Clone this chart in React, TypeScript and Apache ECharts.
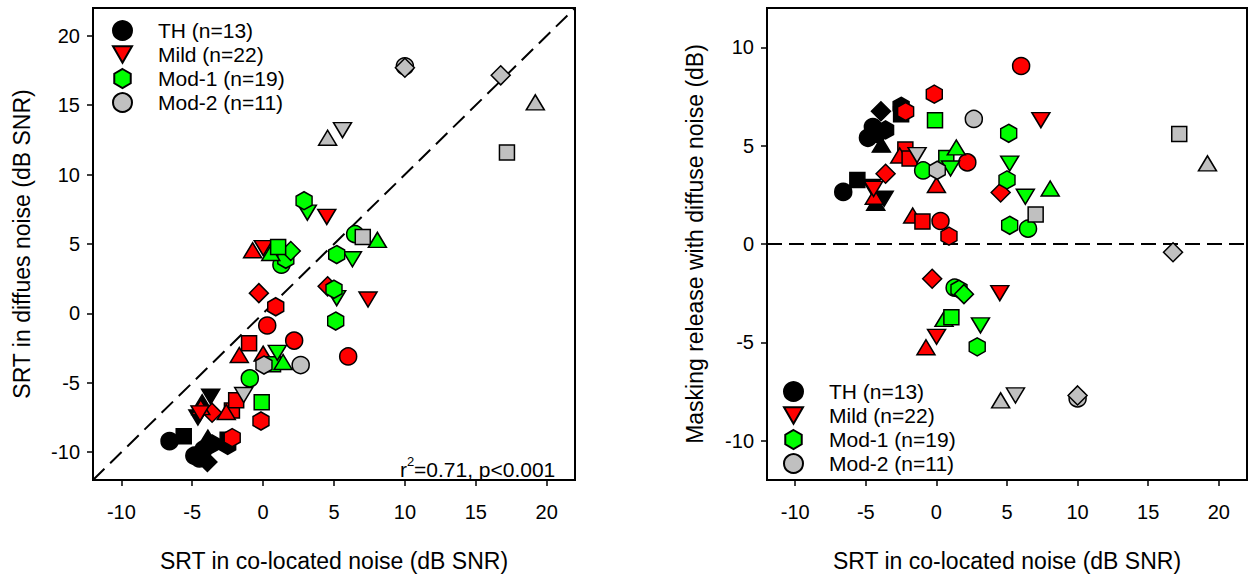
import React, { useEffect, useRef } from "react";
import * as echarts from "echarts";

const groupNames = ["TH (n=13)", "Mild (n=22)", "Mod-1 (n=19)", "Mod-2 (n=11)"];
const groupColors = ["#000000", "#ff0000", "#00ff00", "#c0c0c0"];
const legendShapes = ["c", "d", "h", "c"];

// shape codes: c circle, s square, u triangle up, d triangle down, m diamond, h hexagon
const thShape = ["c", "s", "u", "d", "m", "s", "h", "c", "h", "c", "u", "d", "c"];
const thColocated = [-6.6, -5.6, -4.3, -3.7, -3.93, -2.5, -2.5, -4.5, -3.6, -4.85, -3.9, -4.6, -4.2];
const thDiffuse = [-9.2, -8.85, -6.4, -6.0, -10.7, -9.1, -9.5, -10.45, -9.4, -10.25, -8.95, -7.5, -9.8];
const thRelease = [2.65, 3.25, 2.1, 2.3, 6.75, 6.6, 7.0, 5.95, 5.8, 5.4, 5.05, 2.9, 5.6];

const mildShape = ["c", "h", "h", "d", "m", "u", "d", "s", "u", "s", "c", "u", "m", "u", "s", "c", "h", "m", "d", "d", "u"];
const mildColocated = [6.0, -0.15, -2.18, 7.4, -3.6, -4.4, -4.45, -2.2, -2.6, -1.9, 2.19, 0.0, 4.55, -1.68, -0.99, 0.29, 0.89, -0.3, 4.49, 0.01, -0.74];
const mildDiffuse = [-3.1, -7.75, -8.95, 1.0, -7.15, -6.75, -7.2, -7.0, -7.1, -6.25, -1.96, -2.9, 1.95, -3.0, -2.15, -0.87, 0.48, 1.46, 6.95, 4.7, 4.55];
const mildRelease = [9.05, 7.62, 6.74, 6.3, 3.57, 2.4, 2.8, 4.8, 4.5, 4.35, 4.15, 3.0, 2.62, 1.45, 1.14, 1.17, 0.4, -1.77, -2.5, -4.72, -5.25];

const mod1Shape = ["h", "s", "d", "h", "u", "d", "h", "c", "c", "s", "u", "d", "c", "h", "m", "u", "s", "d", "h"];
const mod1Colocated = [5.12, -0.1, 5.19, 5.0, 8.06, 6.3, 5.19, 6.49, -0.94, 0.7, 1.41, 1.0, 1.29, 1.6, 1.95, 0.54, 1.06, 3.12, 2.89];
const mod1Diffuse = [-0.55, -6.4, 1.1, 1.74, 5.3, 3.9, 4.24, 5.71, -4.68, -3.67, -3.5, -2.84, 3.51, 3.9, 4.5, 4.35, 4.79, 7.26, 8.12];
const mod1Release = [5.63, 6.29, 4.09, 3.26, 2.82, 2.4, 0.95, 0.78, 3.74, 4.37, 4.91, 3.84, -2.22, -2.3, -2.55, -3.81, -3.73, -4.14, -5.23];

const mod2Shape = ["c", "d", "h", "s", "s", "u", "m", "u", "d", "c", "m"];
const mod2Colocated = [2.65, -1.37, 0.06, 7.03, 17.2, 19.2, 16.76, 4.55, 5.6, 10.0, 10.0];
const mod2Diffuse = [-3.72, -5.88, -3.72, 5.5, 11.6, 15.2, 17.15, 12.65, 13.2, 17.8, 17.7];
const mod2Release = [6.36, 4.52, 3.75, 1.5, 5.59, 4.1, -0.42, -7.95, -7.7, -7.85, -7.7];

const xTicks = [-10, -5, 0, 5, 10, 15, 20];
const yTicksLeft = [-10, -5, 0, 5, 10, 15, 20];
const yTicksRight = [-10, -5, 0, 5, 10];
const identityLine = [-12, 22];
const zeroLine = [-12, 22];

const HEX = "path://M0,-10 L8.66,-5 L8.66,5 L0,10 L-8.66,5 L-8.66,-5 Z";
const DOWN = "path://M-10,-8.66 L10,-8.66 L0,8.66 Z";
const FONT = "'Liberation Sans', Arial, Helvetica, sans-serif";

const symbolOf = (code: string) => {
  switch (code) {
    case "c": return { symbol: "circle", symbolSize: 17 };
    case "s": return { symbol: "rect", symbolSize: 15 };
    case "u": return { symbol: "triangle", symbolSize: [18, 15] };
    case "d": return { symbol: DOWN, symbolSize: [18, 15] };
    case "m": return { symbol: "diamond", symbolSize: [19, 19] };
    default: return { symbol: HEX, symbolSize: [16, 18] };
  }
};

const groups = [
  { shape: thShape, x: thColocated, diff: thDiffuse, rel: thRelease },
  { shape: mildShape, x: mildColocated, diff: mildDiffuse, rel: mildRelease },
  { shape: mod1Shape, x: mod1Colocated, diff: mod1Diffuse, rel: mod1Release },
  { shape: mod2Shape, x: mod2Colocated, diff: mod2Diffuse, rel: mod2Release },
];

const legendIcon = (code: string) => (code === "c" ? "circle" : code === "d" ? DOWN : HEX);

export default function App() {
  const ref = useRef<HTMLDivElement>(null);
  useEffect(() => {
    if (!ref.current) return;
    const chart = echarts.init(ref.current, null, { renderer: "svg" });

    const axisCommon = {
      axisLine: { show: true, onZero: false, lineStyle: { color: "#000", width: 2 } },
      axisTick: { show: true, inside: false, length: 6, lineStyle: { color: "#000", width: 1.5 } },
      splitLine: { show: false },
      nameLocation: "middle",
      nameTextStyle: { fontSize: 23, color: "#000", fontFamily: FONT },
    };
    const labelStyle = { fontSize: 20, color: "#000", fontFamily: FONT };

    const xAxis = [0, 1].map((g) => ({
      ...axisCommon,
      type: "value",
      gridIndex: g,
      min: -12,
      max: 22,
      name: "SRT in co-located noise (dB SNR)",
      nameGap: 69,
      axisTick: { ...axisCommon.axisTick, customValues: xTicks },
      axisLabel: { ...labelStyle, margin: 22, customValues: xTicks },
    }));

    const yAxis = [
      {
        ...axisCommon,
        type: "value",
        gridIndex: 0,
        min: -12,
        max: 22,
        name: "SRT in diffues noise (dB SNR)",
        nameGap: 60,
        axisTick: { ...axisCommon.axisTick, customValues: yTicksLeft },
        axisLabel: { ...labelStyle, margin: 13, customValues: yTicksLeft },
      },
      {
        ...axisCommon,
        type: "value",
        gridIndex: 1,
        min: -12,
        max: 12,
        name: "Masking release with diffuse noise (dB)",
        nameGap: 61,
        axisTick: { ...axisCommon.axisTick, customValues: yTicksRight },
        axisLabel: { ...labelStyle, margin: 13, customValues: yTicksRight },
      },
    ];

    const series: any[] = [
      {
        type: "line",
        name: "identity",
        xAxisIndex: 0,
        yAxisIndex: 0,
        data: [[identityLine[0], identityLine[0]], [identityLine[1], identityLine[1]]],
        symbol: "none",
        silent: true,
        z: 1,
        lineStyle: { color: "#000", width: 2, type: [16, 8] },
      },
      {
        type: "line",
        name: "zero",
        xAxisIndex: 1,
        yAxisIndex: 1,
        data: [[zeroLine[0], 0], [zeroLine[1], 0]],
        symbol: "none",
        silent: true,
        z: 1,
        lineStyle: { color: "#000", width: 2, type: [15, 7] },
      },
    ];

    groups.forEach((g, gi) => {
      [0, 1].forEach((panel) => {
        series.push({
          type: "scatter",
          name: groupNames[gi],
          xAxisIndex: panel,
          yAxisIndex: panel,
          z: 3 + gi,
          itemStyle: { color: groupColors[gi], borderColor: "#000", borderWidth: 1.5, opacity: 1 },
          emphasis: { disabled: true },
          data: g.x.map((x, i) => ({
            value: [x, panel === 0 ? g.diff[i] : g.rel[i]],
            ...symbolOf(g.shape[i]),
          })),
        });
      });
    });

    const legendData = groupNames.map((n, i) => ({ name: n, icon: legendIcon(legendShapes[i]) }));
    const legendCommon = {
      orient: "vertical",
      itemWidth: 19,
      itemHeight: 19,
      itemGap: 3,
      padding: 0,
      selectedMode: false,
      textStyle: { fontSize: 21, color: "#000", fontFamily: FONT, padding: [0, 0, 0, 21] },
      data: legendData,
    };

    chart.setOption({
      animation: false,
      backgroundColor: "#fff",
      grid: [
        { left: 93, top: 8, width: 482, height: 479, show: true, borderColor: "#000", borderWidth: 2, backgroundColor: "transparent" },
        { left: 767, top: 8, width: 480, height: 480, show: true, borderColor: "#000", borderWidth: 2, backgroundColor: "transparent" },
      ],
      xAxis,
      yAxis,
      legend: [
        { ...legendCommon, left: 112, top: 20 },
        { ...legendCommon, left: 783, top: 381 },
      ],
      graphic: [
        { type: "text", x: 400, y: 469, style: { text: "r", fontSize: 21, fontFamily: FONT, fill: "#000", textAlign: "left", textVerticalAlign: "middle" } },
        { type: "text", x: 407, y: 461, style: { text: "2", fontSize: 13, fontFamily: FONT, fill: "#000", textAlign: "left", textVerticalAlign: "middle" } },
        { type: "text", x: 414, y: 469, style: { text: "=0.71, p<0.001", fontSize: 21, fontFamily: FONT, fill: "#000", textAlign: "left", textVerticalAlign: "middle" } },
      ],
      series,
    });
    return () => chart.dispose();
  }, []);
  return (
    <div
      ref={ref}
      style={{ position: "absolute", left: 0, top: 0, width: 1249, height: 577, background: "#fff" }}
    />
  );
}
